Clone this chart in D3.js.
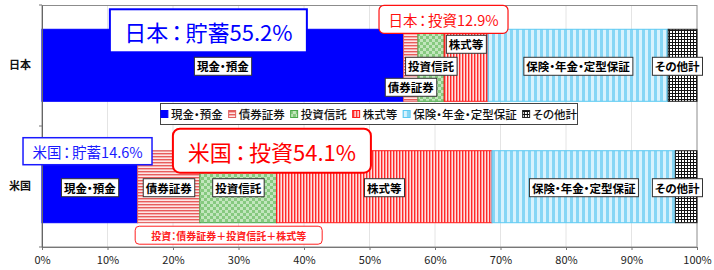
<!DOCTYPE html>
<html><head><meta charset="utf-8">
<script src="https://cdn.jsdelivr.net/npm/d3@7"></script>
<style>
body{margin:0;background:#fff;}
svg{display:block;font-family:"Noto Sans CJK JP","Noto Sans",sans-serif;font-feature-settings:"palt";}
</style></head><body>
<svg id="c" width="714" height="270"></svg>
<script>
// ---------- data ----------
const categories = ["日本", "米国"];
const seriesNames = ["現金・預金", "債券証券", "投資信託", "株式等", "保険・年金・定型保証", "その他計"];
const japanValues = [55.2, 2.2, 4.0, 6.7, 27.5, 4.4];
const usValues = [14.6, 9.5, 11.7, 32.9, 28.0, 3.3];
const xTickValues = [0, 10, 20, 30, 40, 50, 60, 70, 80, 90, 100];
const xTickLabels = ["0%", "10%", "20%", "30%", "40%", "50%", "60%", "70%", "80%", "90%", "100%"];
const calloutTexts = ["日本：貯蓄55.2%", "日本：投資12.9%", "米国：貯蓄14.6%", "米国：投資54.1%", "投資：債券証券＋投資信託＋株式等"];

// ---------- layout / style ----------
const W = 714, H = 270;
const M = {left: 42, top: 5, right: 17, bottom: 23};
const svg = d3.select("#c");
const x = d3.scaleLinear().domain([0, 100]).range([M.left, W - M.right]);
const y = d3.scaleBand().domain(categories).range([M.top, H - M.bottom]).paddingInner(0.407).paddingOuter(0.2);

const fills = ["#0000ff", "url(#p1)", "url(#p2)", "url(#p3)", "url(#p4)", "url(#p5)"];
const strokes = ["#0000ff", "#e06060", "#4aa84a", "#ff1a1a", "#5ccaf2", "#222"];

// patterns
const defs = svg.append("defs");
function pat(id, w, h, bg, rects) {
  const p = defs.append("pattern").attr("id", id).attr("patternUnits", "userSpaceOnUse")
    .attr("width", w).attr("height", h);
  p.append("rect").attr("width", w).attr("height", h).attr("fill", bg);
  rects.forEach(r => p.append("rect").attr("x", r[0]).attr("y", r[1]).attr("width", r[2]).attr("height", r[3]).attr("fill", r[4]));
}
pat("p1", 4, 3, "#fde6e6", [[0, 0, 4, 1.4, "#e85c5c"]]);
pat("p2", 6, 6, "#c2e6bd", [[0, 0, 3, 3, "#86c97f"], [3, 3, 3, 3, "#86c97f"]]);
pat("p3", 3, 4, "#ffe0e0", [[0, 0, 1.4, 4, "#ff2a2a"]]);
pat("p4", 6, 4, "#d8f2fd", [[0, 0, 3, 4, "#86d6f5"]]);
pat("p5", 3, 3, "#ffffff", [[0, 0, 3, 1, "#111"], [0, 0, 1, 3, "#111"]]);

// gridlines
svg.append("g").selectAll("line").data(xTickValues.slice(1, -1)).join("line")
  .attr("x1", d => x(d)).attr("x2", d => x(d))
  .attr("y1", M.top).attr("y2", H - M.bottom)
  .attr("stroke", "#e4e4e4").attr("stroke-width", 1);

// frame
svg.append("rect").attr("x", M.left).attr("y", M.top + 0.5)
  .attr("width", x(100) - M.left).attr("height", H - M.bottom - M.top - 0.5)
  .attr("fill", "none").attr("stroke", "#8c8c8c").attr("stroke-width", 1);

// bars
const allValues = [japanValues, usValues];
const segs = [];
categories.forEach((c, ci) => {
  let acc = 0;
  allValues[ci].forEach((v, si) => {
    segs.push({c, ci, si, x0: acc, x1: acc + v});
    acc += v;
  });
});
svg.append("g").selectAll("rect").data(segs).join("rect")
  .attr("x", d => x(d.x0)).attr("y", d => y(d.c))
  .attr("width", d => x(d.x1) - x(d.x0)).attr("height", y.bandwidth())
  .attr("fill", d => fills[d.si]).attr("stroke", d => strokes[d.si]).attr("stroke-width", 1);

// x axis
const xAxis = d3.axisBottom(x).tickValues(xTickValues).tickFormat((d, i) => xTickLabels[i]).tickSize(3).tickPadding(6);
const gx = svg.append("g").attr("transform", `translate(0,${H - M.bottom})`).call(xAxis);
gx.select(".domain").attr("stroke", "#777");
gx.selectAll(".tick line").attr("stroke", "#777");
gx.selectAll("text").attr("font-size", 11).attr("fill", "#222")
  .attr("font-family", "'Noto Sans CJK JP',sans-serif");

// y axis
const yAxis = d3.axisLeft(y).tickSize(0).tickPadding(11);
const gy = svg.append("g").attr("transform", `translate(${M.left},0)`).call(yAxis);
gy.select(".domain").attr("stroke", "#666");
gy.selectAll("text").attr("font-size", 11).attr("font-weight", 700).attr("fill", "#111")
  .attr("font-family", "'Noto Sans CJK JP',sans-serif");
// category boundary ticks
const bounds = [M.top, (y("日本") + y.bandwidth() + y("米国")) / 2, H - M.bottom];
svg.append("g").selectAll("line").data(bounds).join("line")
  .attr("x1", M.left - 3).attr("x2", M.left).attr("y1", d => d).attr("y2", d => d)
  .attr("stroke", "#777");

// segment labels
const labelDy = [[1, 22, 1, -21, 1, 1], [1, 1, 1, 1, 1, 1]];
const lg = svg.append("g");
segs.forEach(d => {
  const cx = (x(d.x0) + x(d.x1)) / 2;
  const cy = y(d.c) + y.bandwidth() / 2 + labelDy[d.ci][d.si];
  const g = lg.append("g");
  const t = g.append("text").attr("x", cx).attr("y", cy).attr("text-anchor", "middle")
    .attr("dominant-baseline", "central").attr("font-size", 11.5).attr("font-weight", 700)
    .attr("fill", "#000").text(seriesNames[d.si]);
  const b = t.node().getBBox();
  let bx = b.x - 2.5, bw = b.width + 5;
  let shift = 0;
  if (bx + bw > 702.5) shift = 702.5 - (bx + bw);
  t.attr("x", cx + shift);
  g.insert("rect", "text").attr("x", bx + shift).attr("y", cy - 9).attr("width", bw).attr("height", 18)
    .attr("fill", "#fff").attr("stroke", "#333").attr("stroke-width", 1);
});

// legend
const leg = svg.append("g");
leg.append("rect").attr("x", 160.5).attr("y", 103.5).attr("width", 417).attr("height", 21)
  .attr("fill", "#fff").attr("stroke", "#444").attr("stroke-width", 1);
let lx = 0;
const items = leg.append("g");
seriesNames.forEach((n, i) => {
  items.append("rect").attr("x", lx).attr("y", 110.5).attr("width", 7).attr("height", 7)
    .attr("fill", fills[i]).attr("stroke", strokes[i]).attr("stroke-width", 1);
  const t = items.append("text").attr("x", lx + 10).attr("y", 114).attr("dominant-baseline", "central")
    .attr("font-size", 11.5).attr("font-weight", 500).attr("fill", "#111").text(n);
  lx += 10 + t.node().getComputedTextLength() + 6;
});
const iw = lx - 6;
items.attr("transform", `translate(${160.5 + (417 - iw) / 2},0)`);

// callouts
const callouts = [
  {text: calloutTexts[0], cx: x(25.4), cy: y("日本") + 1.5, w: 197, h: 43, color: "#0000ff", sw: 2, rx: 0, fs: 22, fw: 400, gap: 0.14},
  {text: calloutTexts[1], cx: x(61.3), cy: y("日本") - 10, w: 129, h: 28, color: "#ff1010", sw: 1.2, rx: 5, fs: 14.5, fw: 400, gap: 0.12},
  {text: calloutTexts[2], cx: x(6.95), cy: y("米国") + 0.5, w: 129, h: 27, color: "#1a1aff", sw: 1.5, rx: 0, fs: 14.5, fw: 400, gap: 0.12},
  {text: calloutTexts[3], cx: x(35.1), cy: y("米国"), w: 198, h: 44, color: "#ff0000", sw: 2, rx: 7, fs: 22, fw: 400, gap: 0.14},
  {text: calloutTexts[4], cx: x(28.5), cy: y("米国") + y.bandwidth() + 12.5, w: 187, h: 18, color: "#ff2020", sw: 1, rx: 4, fs: 10, fw: 700, gap: 0}
];
const cg = svg.append("g");
callouts.forEach(c => {
  cg.append("rect").attr("x", c.cx - c.w / 2).attr("y", c.cy - c.h / 2).attr("width", c.w).attr("height", c.h)
    .attr("rx", c.rx).attr("fill", "#fff").attr("stroke", c.color).attr("stroke-width", c.sw);
  const t = cg.append("text").attr("x", c.cx).attr("y", c.cy).attr("text-anchor", "middle").attr("dominant-baseline", "central")
    .attr("font-size", c.fs).attr("font-weight", c.fw).attr("fill", c.color);
  const k = c.text.indexOf("：");
  t.append("tspan").text(c.text.slice(0, k));
  t.append("tspan").attr("dx", (c.gap * c.fs).toFixed(1)).text("：");
  t.append("tspan").attr("dx", (c.gap * c.fs).toFixed(1)).text(c.text.slice(k + 1));
});
</script>
</body></html>
